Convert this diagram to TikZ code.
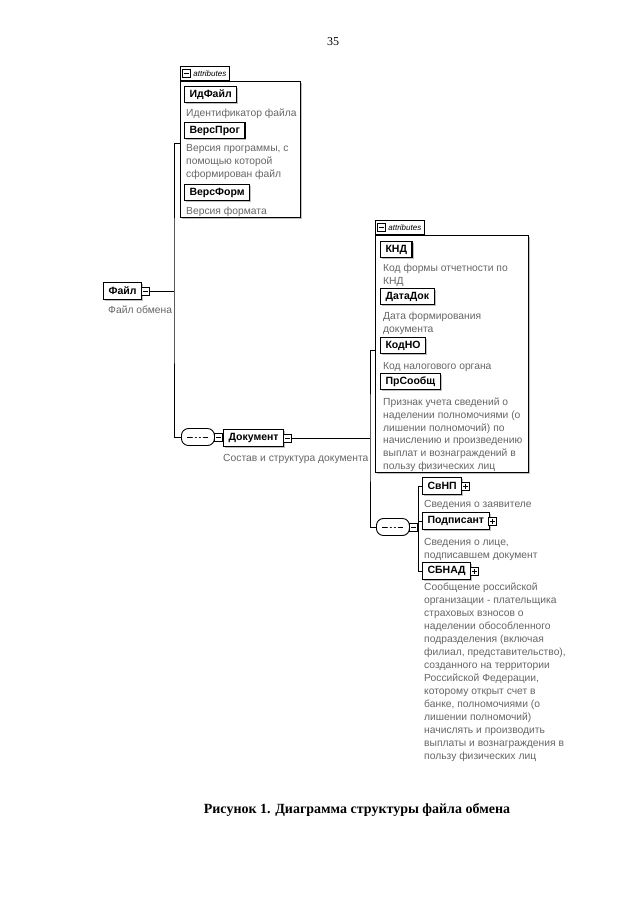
\documentclass[tikz,border=0pt]{standalone}
\usepackage{fontspec}
\setmainfont{Liberation Serif}
\setsansfont{Liberation Sans}
\usetikzlibrary{positioning, shadows}

\tikzset{
  elem/.style={draw, line width=1.1pt, fill=white, anchor=north west,
    font=\sffamily\bfseries\fontsize{10.5}{12}\selectfont,
    minimum height=17pt, inner xsep=5pt, inner ysep=0pt,
    drop shadow={shadow xshift=1.5pt, shadow yshift=-1.5pt, opacity=0.5}},
  desc/.style={anchor=north west, inner sep=0pt, align=left, text=black!60,
    font=\sffamily\fontsize{10.3}{13}\selectfont},
  attrbox/.style={draw, line width=0.8pt, fill=white, anchor=north west, inner sep=0pt,
    drop shadow={shadow xshift=1.5pt, shadow yshift=-1.5pt, opacity=0.5}},
  attrtab/.style={draw, line width=0.8pt, fill=white, anchor=south west,
    inner xsep=3pt, inner ysep=0pt, minimum height=14pt,
    font=\sffamily\itshape\fontsize{8}{9}\selectfont},
  signbox/.style={draw, line width=0.7pt, fill=white, minimum size=8pt, inner sep=0pt},
  minusbox/.style={signbox, path picture={
    \draw ([xshift=1.5pt]path picture bounding box.west) -- ([xshift=-1.5pt]path picture bounding box.east);}},
  plusbox/.style={signbox, path picture={
    \draw ([xshift=1.5pt]path picture bounding box.west) -- ([xshift=-1.5pt]path picture bounding box.east);
    \draw ([yshift=-1.5pt]path picture bounding box.north) -- ([yshift=1.5pt]path picture bounding box.south);}},
  seqsym/.style={draw, line width=0.9pt, fill=white, rounded corners=7pt,
    minimum width=33pt, minimum height=17pt, inner sep=0pt, anchor=west,
    path picture={
      \draw[line width=0.9pt] ([xshift=6pt]path picture bounding box.west) -- ([xshift=-6pt]path picture bounding box.east);
      \fill ([xshift=-4pt]path picture bounding box.center) circle (1.5pt);
      \fill (path picture bounding box.center) circle (1.5pt);
      \fill ([xshift=4pt]path picture bounding box.center) circle (1.5pt);}},
  link/.style={line width=0.9pt}
}

\begin{document}
\begin{tikzpicture}[x=1pt, y=-1pt]

\fill[white] (0,0) rectangle (640,905);
\useasboundingbox (0,0) rectangle (640,905);

\node (pagenum) at (333,42) {\fontsize{12}{14}\selectfont 35};

% attributes of the root element
\node (attrA) [attrbox, minimum width=120pt, minimum height=136pt] at (180,81) {};
\node (tabA) [attrtab] at (180,81) {\hspace*{10pt}attributes};
\node (tabAsign) [minusbox, right=2pt of tabA.west, anchor=west] {};
\node (idfile) [elem, minimum height=16pt] at (184,86) {ИдФайл};
\node (idfiledesc) [desc] at (186,109) {Идентификатор файла};
\node (versprog) [elem, minimum height=16pt] at (184,122) {ВерсПрог};
\node (versprogdesc) [desc] at (186,144) {Версия программы, с\\помощью которой\\сформирован файл};
\node (versform) [elem, minimum height=16pt] at (184,184) {ВерсФорм};
\node (versformdesc) [desc] at (186,207) {Версия формата};

% root element
\node (file) [elem] at (103,282) {Файл};
\node (fileexp) [minusbox] at ([xshift=3pt]file.east) {};
\node (filedesc) [desc] at (108,306) {Файл обмена};
\coordinate (forkA) at (174,291);

% sequence and document
\node (seqA) [seqsym] at (181,437) {};
\node (seqAexp) [minusbox, anchor=west] at ([xshift=-1pt]seqA.east) {};
\node (doc) [elem] at (223,429) {Документ};
\node (docexp) [minusbox] at ([xshift=3pt]doc.east) {};
\node (docdesc) [desc] at (223,454) {Состав и структура документа};
\coordinate (forkB) at (370,437);

% attributes of the document
\node (attrB) [attrbox, minimum width=153pt, minimum height=237pt] at (375,235) {};
\node (tabB) [attrtab] at (375,235) {\hspace*{10pt}attributes};
\node (tabBsign) [minusbox, right=2pt of tabB.west, anchor=west] {};
\node (knd) [elem, minimum height=16pt] at (380,241) {КНД};
\node (knddesc) [desc] at (383,264) {Код формы отчетности по\\КНД};
\node (datadok) [elem, minimum height=16pt] at (380,288) {ДатаДок};
\node (datadokdesc) [desc] at (383,312) {Дата формирования\\документа};
\node (kodno) [elem, minimum height=16pt] at (380,337) {КодНО};
\node (kodnodesc) [desc] at (383,362) {Код налогового органа};
\node (prsoob) [elem, minimum height=16pt] at (380,373) {ПрСообщ};
\node (prsoobdesc) [desc, font=\sffamily\fontsize{10.3}{12.7}\selectfont] at (383,398)
  {Признак учета сведений о\\наделении полномочиями (о\\лишении полномочий) по\\начислению и произведению\\выплат и вознаграждений в\\пользу физических лиц};

% children of the document
\node (seqB) [seqsym] at (376,527) {};
\node (seqBexp) [minusbox, anchor=west] at ([xshift=-1pt]seqB.east) {};
\coordinate (forkC) at (418,527);
\node (svnp) [elem] at (422,477) {СвНП};
\node (svnpexp) [plusbox] at ([xshift=3pt]svnp.east) {};
\node (svnpdesc) [desc] at (424,500) {Сведения о заявителе};
\node (podp) [elem] at (422,512) {Подписант};
\node (podpexp) [plusbox] at ([xshift=3pt]podp.east) {};
\node (podpdesc) [desc] at (424,538) {Сведения о лице,\\подписавшем документ};
\node (sbnad) [elem] at (422,562) {СБНАД};
\node (sbnadexp) [plusbox] at ([xshift=3pt]sbnad.east) {};
\node (sbnaddesc) [desc] at (424,583) {Сообщение российской\\организации - плательщика\\страховых взносов о\\наделении обособленного\\подразделения (включая\\филиал, представительство),\\созданного на территории\\Российской Федерации,\\которому открыт счет в\\банке, полномочиями (о\\лишении полномочий)\\начислять и производить\\выплаты и вознаграждения в\\пользу физических лиц};

\draw[link] (fileexp) -- (fileexp -| forkA);
\draw[link] ([yshift=6pt]attrA.west) -| (forkA) |- (seqA.west);
\draw[link] (seqAexp.east) -- (doc.west);
\draw[link] (docexp) -- (docexp -| forkB);
\draw[link] ([yshift=3pt]attrB.west) -| (forkB) |- (seqB.west);
\draw[link] (seqBexp) -- (seqBexp -| forkC);
\draw[link] (svnp.west) -| (forkC);
\draw[link] (podp.west) -- (podp.west -| forkC);
\draw[link] (sbnad.west) -| (forkC);

\node (caption) at (357,810) {\bfseries\fontsize{14}{16}\selectfont Рисунок 1. Диаграмма структуры файла обмена};

\end{tikzpicture}
\end{document}
